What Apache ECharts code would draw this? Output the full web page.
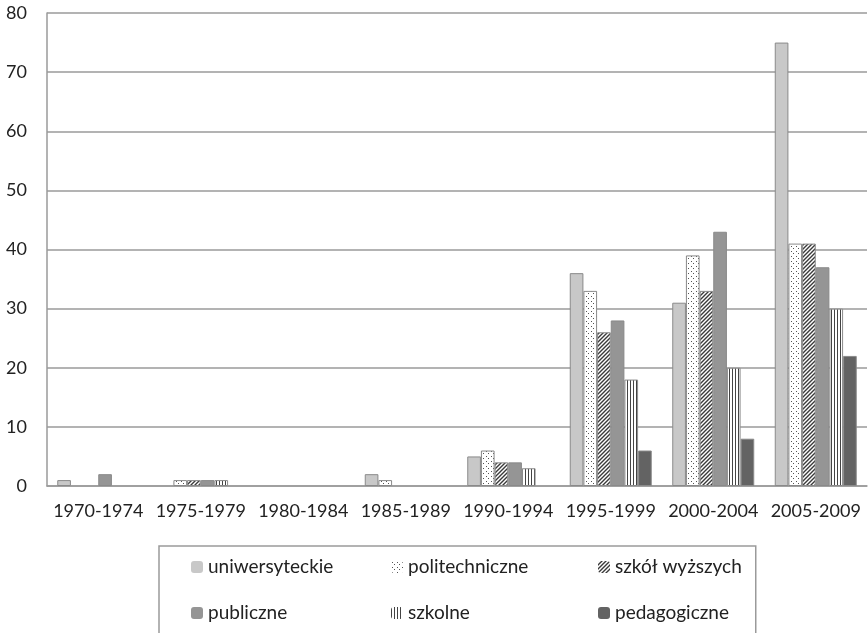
<!DOCTYPE html>
<html>
<head>
<meta charset="utf-8">
<script src="https://cdn.jsdelivr.net/npm/echarts@6/dist/echarts.min.js"></script>
<style>
  html, body { margin: 0; padding: 0; background: #fff; }
  #chart { width: 868px; height: 633px; }
</style>
</head>
<body>
<div id="chart"></div>
<script>
var categories = ['1970-1974', '1975-1979', '1980-1984', '1985-1989', '1990-1994', '1995-1999', '2000-2004', '2005-2009']
var seriesNames = ['uniwersyteckie', 'politechniczne', 'szkół wyższych', 'publiczne', 'szkolne', 'pedagogiczne']
var uniwersyteckie = [1, 0, 0, 2, 5, 36, 31, 75]
var politechniczne = [0, 1, 0, 1, 6, 33, 39, 41]
var szkolWyzszych = [0, 1, 0, 0, 4, 26, 33, 41]
var publiczne = [2, 1, 0, 0, 4, 28, 43, 37]
var szkolne = [0, 1, 0, 0, 3, 18, 20, 30]
var pedagogiczne = [0, 0, 0, 0, 0, 6, 8, 22]
var yTicks = [0, 10, 20, 30, 40, 50, 60, 70, 80]

// small canvases used as fill patterns
function makePattern (kind) {
  var c = document.createElement('canvas')
  var ctx = c.getContext('2d')
  if (kind === 'dots') {
    c.width = 5; c.height = 5
    ctx.fillStyle = '#fff'
    ctx.fillRect(0, 0, 5, 5)
    ctx.fillStyle = '#555'
    ctx.fillRect(1, 1, 1, 1)
    ctx.fillRect(3, 3, 1, 1)
  } else if (kind === 'diag') {
    c.width = 4; c.height = 4
    ctx.fillStyle = '#fff'
    ctx.fillRect(0, 0, 4, 4)
    ctx.strokeStyle = '#3a3a3a'
    ctx.lineWidth = 1.4
    ctx.beginPath()
    ctx.moveTo(-1, 5); ctx.lineTo(5, -1)
    ctx.moveTo(-1, 1); ctx.lineTo(1, -1)
    ctx.moveTo(3, 5); ctx.lineTo(5, 3)
    ctx.stroke()
  } else if (kind === 'vert') {
    c.width = 3; c.height = 3
    ctx.fillStyle = '#fff'
    ctx.fillRect(0, 0, 3, 3)
    ctx.fillStyle = '#444'
    ctx.fillRect(0, 0, 1, 3)
  }
  return {image: c, repeat: 'repeat'}
}

var fills = ['#c8c8c8', makePattern('dots'), makePattern('diag'), '#959595', makePattern('vert'), '#636363']
var values = [uniwersyteckie, politechniczne, szkolWyzszych, publiczne, szkolne, pedagogiczne]
// legend text widths per column so the three columns line up
var legendColWidth = [173, 180, 94]

var chart = echarts.init(document.getElementById('chart'))
var fontFamily = 'Lato'

var series = []
var legendData = []
for (var i = 0; i < seriesNames.length; i++) {
  series.push({
    name: seriesNames[i],
    type: 'bar',
    barGap: 0,
    barCategoryGap: '20%',
    // zero bars are not drawn in the original
    data: values[i].map(function (v) { return v === 0 ? '-' : v }),
    itemStyle: {
      color: fills[i],
      borderColor: '#8a8a8a',
      borderWidth: 1
    }
  })
  legendData.push({
    name: seriesNames[i],
    textStyle: { width: legendColWidth[i % 3] }
  })
}

var option = {
  animation: false,
  backgroundColor: '#fff',
  grid: {
    left: 47,
    right: 1,
    top: 13,
    bottom: 147
  },
  legend: {
    left: 159,
    top: 546,
    orient: 'horizontal',
    width: 600,
    padding: [3, 14, 40, 32],
    itemGap: 10,
    itemWidth: 12,
    itemHeight: 12,
    itemStyle: { borderWidth: 0 },
    borderColor: '#9a9a9a',
    borderWidth: 1.5,
    data: legendData,
    textStyle: {
      fontFamily: fontFamily,
      fontSize: 19,
      color: '#222',
      lineHeight: 36
    }
  },
  xAxis: {
    type: 'category',
    data: categories,
    axisTick: { show: false },
    axisLine: { lineStyle: { color: '#9a9a9a', width: 1.5 } },
    axisLabel: {
      fontFamily: fontFamily,
      fontSize: 18,
      color: '#222',
      margin: 16,
      interval: 0
    }
  },
  yAxis: {
    type: 'value',
    min: yTicks[0],
    max: yTicks[yTicks.length - 1],
    interval: 10,
    axisLine: { show: true, lineStyle: { color: '#9a9a9a', width: 1.5 } },
    axisTick: { show: false },
    splitLine: { lineStyle: { color: '#9a9a9a', width: 1.5 } },
    axisLabel: {
      fontFamily: fontFamily,
      fontSize: 18,
      color: '#222',
      margin: 20
    }
  },
  series: series
}

chart.setOption(option)
</script>
</body>
</html>
